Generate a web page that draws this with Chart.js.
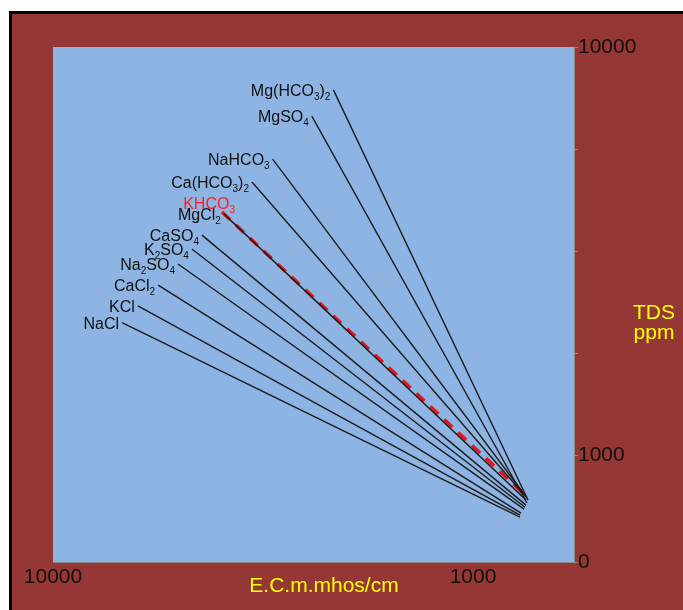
<!DOCTYPE html>
<html>
<head>
<meta charset="utf-8">
<script src="https://cdn.jsdelivr.net/npm/chart.js@4.4.1/dist/chart.umd.min.js"></script>
<style>
  html, body { margin: 0; padding: 0; background: #fff; }
</style>
</head>
<body>
<canvas id="myChart" width="683" height="610"></canvas>
<script>
// salts, and the two ends of each line (E.C. in micromhos/cm, TDS in ppm)
const salts   = ['Mg(HCO3)2', 'MgSO4', 'NaHCO3', 'Ca(HCO3)2', 'MgCl2', 'KHCO3', 'CaSO4', 'K2SO4', 'Na2SO4', 'CaCl2', 'KCl', 'NaCl'];
const ecHigh  = [2150, 2420, 3000, 3360, 3920, 3960, 4420, 4670, 5040, 5620, 6280, 6850];
const tdsHigh = [7850, 6770, 5310, 4670, 3900, 3940, 3460, 3200, 2940, 2610, 2320, 2110];
const ecLow   = [740, 744, 744, 748, 748, 760, 748, 752, 756, 769, 773, 773];
const tdsLow  = [776, 763, 785, 789, 776, 807, 754, 745, 737, 721, 713, 705];
const xTicks = [1000, 10000];
const yTicks = [547, 1000, 1778, 3162, 5623, 10000];
const yTickText = {547: '0', 1000: '1000', 10000: '10000'};

const FONT = '"Liberation Sans", Arial, sans-serif';

function drawFormula(c, text, right, mid, color) {
  // every digit in a formula is a subscript
  const parts = text.match(/\d+|\D+/g);
  const big = '16px ' + FONT, small = '10px ' + FONT;
  c.save();
  let w = 0;
  parts.forEach(s => { c.font = /\d/.test(s) ? small : big; w += c.measureText(s).width; });
  let x = right - w;
  const base = mid + 6;
  c.fillStyle = color;
  c.textAlign = 'left';
  c.textBaseline = 'alphabetic';
  parts.forEach(s => {
    const sub = /\d/.test(s);
    c.font = sub ? small : big;
    c.fillText(s, x, sub ? base + 4 : base);
    x += c.measureText(s).width;
  });
  c.restore();
}

const backdrop = {
  id: 'backdrop',
  beforeDraw(chart) {
    const c = chart.ctx, a = chart.chartArea;
    c.save();
    c.fillStyle = '#fff';
    c.fillRect(0, 0, chart.width, chart.height);
    c.fillStyle = '#000';
    c.fillRect(9, 11, chart.width - 9, chart.height - 11);
    c.fillStyle = '#953735';
    c.fillRect(12, 14, chart.width - 12, chart.height - 14);
    c.fillStyle = '#8db4e2';
    c.fillRect(a.left, a.top, a.right - a.left, a.bottom - a.top);
    c.restore();
  },
  afterDraw(chart) {
    const c = chart.ctx;
    c.save();
    c.fillStyle = '#ffff00';
    c.font = '21px ' + FONT;
    c.textAlign = 'center';
    c.textBaseline = 'alphabetic';
    c.fillText('TDS', 654, 319);
    c.fillText('ppm', 654, 339);
    c.fillText('E.C.m.mhos/cm', 324, 592);
    c.restore();
  }
};

const saltLabels = {
  id: 'saltLabels',
  afterDatasetsDraw(chart) {
    const xs = chart.scales.x, ys = chart.scales.y;
    chart.data.datasets.forEach(ds => {
      const p = ds.data[0];
      const px = xs.getPixelForValue(p.x), py = ys.getPixelForValue(p.y);
      const dashed = ds.borderDash.length > 0;
      // the red label sits above the MgCl2 one
      if (dashed) drawFormula(chart.ctx, ds.label, px + 13, py - 9, '#ff1f1f');
      else drawFormula(chart.ctx, ds.label, px - 3, py, '#111');
    });
  }
};

const datasets = salts.map((name, i) => {
  const dashed = name === 'KHCO3';
  return {
    label: name,
    data: [{x: ecHigh[i], y: tdsHigh[i]}, {x: ecLow[i], y: tdsLow[i]}],
    showLine: true,
    borderColor: dashed ? '#e3161b' : '#1c1c1c',
    borderWidth: dashed ? 3.5 : 1.4,
    borderDash: dashed ? [11, 8] : [],
    pointRadius: 0
  };
});

const ctx = document.getElementById('myChart').getContext('2d');
const chart = new Chart(ctx, {
  type: 'scatter',
  data: { datasets: datasets },
  options: {
    responsive: false,
    animation: false,
    devicePixelRatio: 1,
    layout: { padding: { left: 53, top: 47, right: 0, bottom: 0 } },
    plugins: { legend: { display: false }, tooltip: { enabled: false } },
    scales: {
      x: {
        type: 'logarithmic',
        reverse: true,
        min: 575,
        max: 10000,
        afterBuildTicks: s => { s.ticks = xTicks.map(v => ({value: v})); },
        afterFit: s => { s.height = 48; },
        grid: { drawOnChartArea: false, drawTicks: false },
        border: { display: true, color: '#8a8a8a', width: 1 },
        ticks: {
          color: '#111',
          padding: 3,
          font: { family: FONT, size: 21 },
          maxRotation: 0,
          autoSkip: false,
          callback: v => String(v)
        }
      },
      y: {
        type: 'logarithmic',
        position: 'right',
        min: 547,
        max: 10000,
        afterBuildTicks: s => { s.ticks = yTicks.map(v => ({value: v})); },
        afterFit: s => { s.width = 109; },
        grid: { drawOnChartArea: false, drawTicks: true, tickLength: 4, color: '#8a8a8a' },
        border: { display: true, color: '#8a8a8a', width: 1 },
        ticks: {
          color: '#111',
          padding: 0,
          font: { family: FONT, size: 21 },
          autoSkip: false,
          callback: v => yTickText[v] || ''
        }
      }
    }
  },
  plugins: [backdrop, saltLabels]
});
</script>
</body>
</html>
